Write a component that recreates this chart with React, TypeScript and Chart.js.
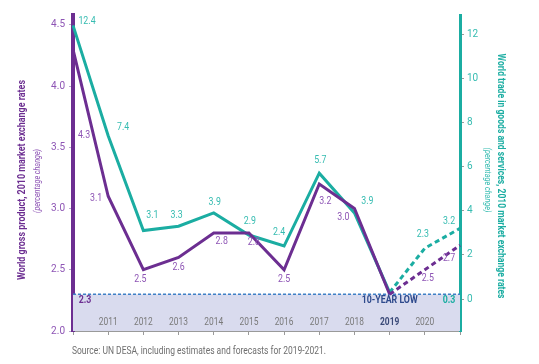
import React, { useEffect, useRef } from "react";
import { Chart, registerables } from "chart.js";

Chart.register(...registerables);

// ---- data ----
const years = ["2010", "2011", "2012", "2013", "2014", "2015", "2016", "2017", "2018", "2019", "2020", "2021"];
const gwp = [4.3, 3.1, 2.5, 2.6, 2.8, 2.8, 2.5, 3.2, 3.0, 2.3, 2.5, 2.7];
const trade = [12.4, 7.4, 3.1, 3.3, 3.9, 2.9, 2.4, 5.7, 3.9, 0.3, 2.3, 3.2];
const leftTicks = [2.0, 2.5, 3.0, 3.5, 4.0, 4.5];
const rightTicks = [0, 2, 4, 6, 8, 10, 12];
const forecastFrom = 9; // index of 2019, dashed afterwards
const lowIndex = 9;
const lowText = "10-YEAR LOW";
const leftTitle = "World gross product, 2010 market exchange rates";
const rightTitle = "World trade in goods and services, 2010 market exchange rates";
const subTitle = "(percentage change)";
const sourceText = "Source: UN DESA, including estimates and forecasts for 2019-2021.";

// ---- styles (label offsets from each point) ----
const gwpOffsets: [number, number][] = [
  [11, 86], [-12, 2], [-3, 9], [0, 10], [8, 8], [5, 9], [0, 9], [6, 17], [-11, 9], [0, 0], [3, 8], [-11, 13],
];
const tradeOffsets: [number, number][] = [
  [14, -4], [15, -8], [9, -15], [-2, -11], [1, -11], [1, -14], [-5, -14], [1, -13], [13, -12], [0, 0], [-2, -14], [-11, -7],
];

const FONT = "Roboto, 'DejaVu Sans', sans-serif";
const SQ = 0.8; // horizontal condensing of text
const PURPLE = "#6c2e91";
const PURPLE_LT = "#8e55b5";
const TEAL = "#1bada2";
const TEAL_LT = "#36bcb1";
const NAVY = "#2e4a8c";

function txt(ctx: any, s: string, x: number, y: number, sx: number = SQ, rot: number = 0) {
  ctx.save();
  ctx.translate(x, y);
  if (rot) ctx.rotate(rot);
  ctx.scale(sx, 1);
  ctx.fillText(s, 0, 0);
  ctx.restore();
}

function fitTxt(ctx: any, s: string, x: number, y: number, width: number, rot: number) {
  const w = ctx.measureText(s).width;
  txt(ctx, s, x, y, width / w, rot);
}

const overlay = {
  id: "overlay",
  beforeDatasetsDraw(chart: any) {
    const { ctx, chartArea: a, scales } = chart;
    const yTop = scales.yL.getPixelForValue(gwp[lowIndex]);
    ctx.save();
    ctx.fillStyle = "#d9dbee";
    ctx.fillRect(a.left, yTop, a.right - a.left, a.bottom - yTop);
    ctx.strokeStyle = "#3f80c6";
    ctx.lineWidth = 1.5;
    ctx.setLineDash([3, 2]);
    ctx.beginPath();
    ctx.moveTo(a.left, yTop);
    ctx.lineTo(a.right, yTop);
    ctx.stroke();
    ctx.restore();
  },
  afterDatasetsDraw(chart: any) {
    const { ctx, chartArea: a, scales } = chart;
    const x = scales.x;
    const yL = scales.yL;
    const yR = scales.yR;
    ctx.save();
    ctx.textAlign = "center";
    ctx.textBaseline = "middle";
    ctx.font = `11px ${FONT}`;
    gwp.forEach((v, i) => {
      if (i === lowIndex) return;
      const [dx, dy] = gwpOffsets[i];
      ctx.fillStyle = PURPLE_LT;
      txt(ctx, v.toFixed(1), x.getPixelForValue(i) + dx, yL.getPixelForValue(v) + dy);
    });
    trade.forEach((v, i) => {
      if (i === lowIndex) return;
      const [dx, dy] = tradeOffsets[i];
      ctx.fillStyle = TEAL_LT;
      txt(ctx, v.toFixed(1), x.getPixelForValue(i) + dx, yR.getPixelForValue(v) + dy);
    });
    // low annotations
    const lowY = 300;
    ctx.font = `bold 11px ${FONT}`;
    ctx.fillStyle = PURPLE;
    txt(ctx, gwp[lowIndex].toFixed(1), a.left + 12, lowY);
    ctx.fillStyle = TEAL;
    txt(ctx, trade[lowIndex].toFixed(1), a.right - 11, lowY);
    ctx.fillStyle = NAVY;
    ctx.textAlign = "right";
    txt(ctx, lowText, x.getPixelForValue(lowIndex) + 28, lowY);
    // x labels inside the box
    ctx.textAlign = "center";
    for (let i = 1; i < years.length - 1; i++) {
      const bold = i === lowIndex;
      ctx.font = `${bold ? "bold " : ""}10.5px ${FONT}`;
      ctx.fillStyle = bold ? "#3b4a78" : "#7a7a7a";
      txt(ctx, years[i], x.getPixelForValue(i), a.bottom - 9);
    }
    ctx.restore();
  },
  afterDraw(chart: any) {
    const { ctx, chartArea: a } = chart;
    ctx.save();
    ctx.textAlign = "center";
    ctx.textBaseline = "middle";
    ctx.font = `bold 10.5px ${FONT}`;
    ctx.fillStyle = PURPLE;
    fitTxt(ctx, leftTitle, 22, 180, 200, -Math.PI / 2);
    ctx.font = `italic 8.5px ${FONT}`;
    ctx.fillStyle = PURPLE_LT;
    fitTxt(ctx, subTitle, 38, 181, 64, -Math.PI / 2);
    ctx.font = `bold 10.5px ${FONT}`;
    ctx.fillStyle = TEAL;
    fitTxt(ctx, rightTitle, 501, 176, 245, Math.PI / 2);
    ctx.font = `italic 8.5px ${FONT}`;
    ctx.fillStyle = TEAL_LT;
    fitTxt(ctx, subTitle, 487, 180, 65, Math.PI / 2);
    // source
    ctx.textAlign = "left";
    ctx.font = `10.5px ${FONT}`;
    ctx.fillStyle = "#6e6e6e";
    fitTxt(ctx, sourceText, a.left - 1, 351, 254, 0);
    ctx.restore();
  },
};

export default function App() {
  const ref = useRef<HTMLCanvasElement | null>(null);
  useEffect(() => {
    document.body.style.margin = "0";
    const dash = (c: any) => (c.p0DataIndex >= forecastFrom ? [5, 3.5] : undefined);
    const chart = new Chart(ref.current as HTMLCanvasElement, {
      type: "line",
      data: {
        labels: years,
        datasets: [
          {
            label: "GWP",
            data: gwp,
            yAxisID: "yL",
            borderColor: PURPLE,
            borderWidth: 3,
            pointRadius: 0,
            tension: 0,
            segment: { borderDash: dash },
          },
          {
            label: "Trade",
            data: trade,
            yAxisID: "yR",
            borderColor: TEAL,
            borderWidth: 3,
            pointRadius: 0,
            tension: 0,
            segment: { borderDash: dash },
          },
        ],
      },
      options: {
        responsive: false,
        animation: false,
        layout: { padding: { top: 15, left: 0, right: 0, bottom: 0 } },
        plugins: { legend: { display: false }, tooltip: { enabled: false } },
        scales: {
          x: {
            type: "category",
            offset: false,
            z: 1,
            grid: { drawOnChartArea: false, drawTicks: true, tickLength: 4, color: "#9a9a9a" },
            border: { display: true, color: "#9a9a9a", width: 1 },
            ticks: { display: false },
            afterFit: (s: any) => {
              s.height = 33;
            },
          },
          yL: {
            type: "linear",
            position: "left",
            min: 2.0,
            max: 4.58,
            z: 1,
            afterBuildTicks: (s: any) => {
              s.ticks = leftTicks.map((v) => ({ value: v }));
            },
            grid: { drawOnChartArea: false, drawTicks: true, tickLength: 4, color: "#b9a6cc" },
            border: { display: true, color: PURPLE, width: 4 },
            ticks: {
              color: PURPLE_LT,
              padding: 4,
              font: { family: FONT, size: 10 },
              callback: (v: any) => Number(v).toFixed(1),
            },
            afterFit: (s: any) => {
              s.width = 73;
            },
          },
          yR: {
            type: "linear",
            position: "right",
            min: -1.45,
            max: 12.87,
            z: 1,
            afterBuildTicks: (s: any) => {
              s.ticks = rightTicks.map((v) => ({ value: v }));
            },
            grid: { drawOnChartArea: false, drawTicks: true, tickLength: 4, color: "#9a9a9a" },
            border: { display: true, color: TEAL, width: 3 },
            ticks: {
              color: TEAL_LT,
              padding: 3,
              font: { family: FONT, size: 10 },
              callback: (v: any) => String(v),
            },
            afterFit: (s: any) => {
              s.width = 79;
            },
          },
        },
      },
      plugins: [overlay],
    } as any);
    return () => chart.destroy();
  }, []);
  return <canvas ref={ref} width={539} height={364} style={{ display: "block" }} />;
}
